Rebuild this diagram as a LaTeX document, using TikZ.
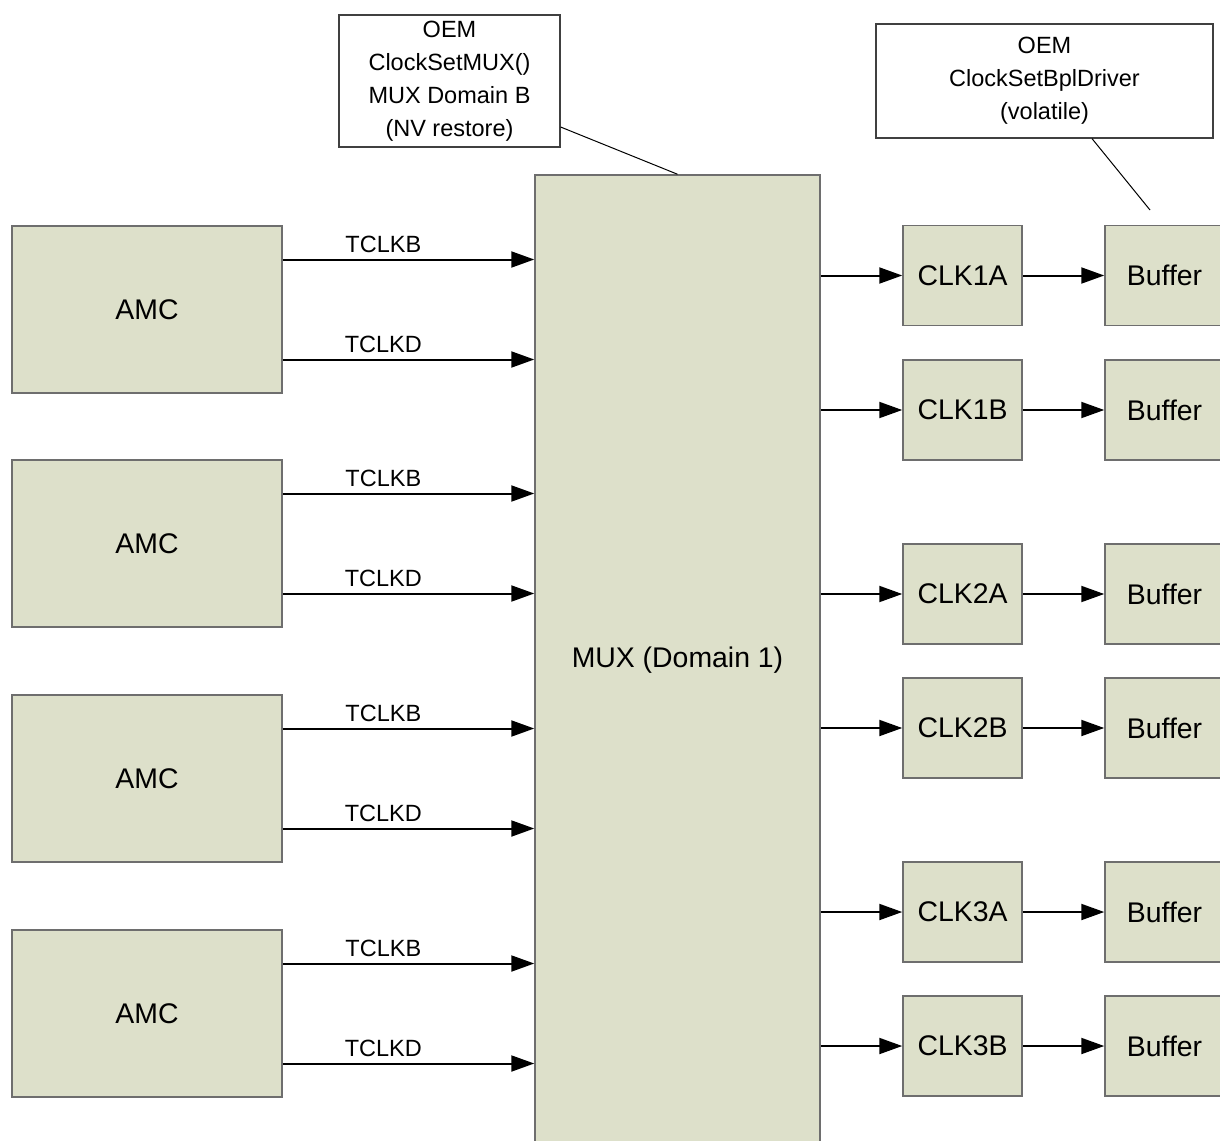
\documentclass[tikz,border=0pt]{standalone}
\usepackage{fontspec}
\setmainfont{Liberation Sans}
\usepackage{xcolor}
\usepackage{tikz}
\usetikzlibrary{arrows.meta, positioning}
\definecolor{boxfill}{HTML}{DDE0CA}
\definecolor{boxline}{HTML}{6E6E6E}

\begin{document}
\begin{tikzpicture}[x=1pt, y=-1pt,
    blk/.style={draw=boxline, fill=boxfill, line width=1.5pt, inner sep=0pt,
                minimum width=#1, font=\fontsize{28.4}{33}\selectfont},
    amcbox/.style={blk=270pt, minimum height=167pt},
    clkbox/.style={blk=119pt, minimum height=100pt},
    note/.style={draw=black!75, fill=white, line width=1.2pt, align=center,
                 inner sep=0pt, font=\fontsize{23.5}{33}\selectfont},
    sig/.style={line width=2pt, -{Triangle[length=23pt, width=16pt]}},
    tag/.style={font=\fontsize{23.5}{28}\selectfont, inner sep=2pt},
    lead/.style={line width=1pt},
]
    \path[use as bounding box, clip] (0,0) rectangle (1220,1140);

    % MUX
    \node[blk=285pt, minimum height=970pt] (mux) at (677.5, 660) {MUX (Domain 1)};

    % AMC modules
    \node[amcbox] (amc1) at (147, 309.5) {AMC};
    \node[amcbox] (amc2) at (147, 543.5) {AMC};
    \node[amcbox] (amc3) at (147, 778.5) {AMC};
    \node[amcbox] (amc4) at (147, 1013.5) {AMC};

    % clock inputs
    \coordinate (b1) at ([yshift=50pt]amc1.east);
    \coordinate (d1) at ([yshift=-50pt]amc1.east);
    \coordinate (b2) at ([yshift=50pt]amc2.east);
    \coordinate (d2) at ([yshift=-50pt]amc2.east);
    \coordinate (b3) at ([yshift=50pt]amc3.east);
    \coordinate (d3) at ([yshift=-50pt]amc3.east);
    \coordinate (b4) at ([yshift=50pt]amc4.east);
    \coordinate (d4) at ([yshift=-50pt]amc4.east);
    \draw[sig] (b1) -- (b1 -| mux.west) node[tag, pos=0.4, above=4pt] {TCLKB};
    \draw[sig] (d1) -- (d1 -| mux.west) node[tag, pos=0.4, above=4pt] {TCLKD};
    \draw[sig] (b2) -- (b2 -| mux.west) node[tag, pos=0.4, above=4pt] {TCLKB};
    \draw[sig] (d2) -- (d2 -| mux.west) node[tag, pos=0.4, above=4pt] {TCLKD};
    \draw[sig] (b3) -- (b3 -| mux.west) node[tag, pos=0.4, above=4pt] {TCLKB};
    \draw[sig] (d3) -- (d3 -| mux.west) node[tag, pos=0.4, above=4pt] {TCLKD};
    \draw[sig] (b4) -- (b4 -| mux.west) node[tag, pos=0.4, above=4pt] {TCLKB};
    \draw[sig] (d4) -- (d4 -| mux.west) node[tag, pos=0.4, above=4pt] {TCLKD};

    % clock outputs
    \node[clkbox] (clk1a) at (962.5, 275.5) {CLK1A};
    \node[clkbox] (clk1b) at (962.5, 410) {CLK1B};
    \node[clkbox] (clk2a) at (962.5, 594) {CLK2A};
    \node[clkbox] (clk2b) at (962.5, 728) {CLK2B};
    \node[clkbox] (clk3a) at (962.5, 912) {CLK3A};
    \node[clkbox] (clk3b) at (962.5, 1046) {CLK3B};

    % buffers
    \node[clkbox] (buf1a) at (1164.5, 275.5) {Buffer};
    \node[clkbox] (buf1b) at (1164.5, 410) {Buffer};
    \node[clkbox] (buf2a) at (1164.5, 594) {Buffer};
    \node[clkbox] (buf2b) at (1164.5, 728) {Buffer};
    \node[clkbox] (buf3a) at (1164.5, 912) {Buffer};
    \node[clkbox] (buf3b) at (1164.5, 1046) {Buffer};

    \draw[sig] (clk1a.west -| mux.east) -- (clk1a.west);
    \draw[sig] (clk1b.west -| mux.east) -- (clk1b.west);
    \draw[sig] (clk2a.west -| mux.east) -- (clk2a.west);
    \draw[sig] (clk2b.west -| mux.east) -- (clk2b.west);
    \draw[sig] (clk3a.west -| mux.east) -- (clk3a.west);
    \draw[sig] (clk3b.west -| mux.east) -- (clk3b.west);
    \draw[sig] (clk1a) -- (buf1a);
    \draw[sig] (clk1b) -- (buf1b);
    \draw[sig] (clk2a) -- (buf2a);
    \draw[sig] (clk2b) -- (buf2b);
    \draw[sig] (clk3a) -- (buf3a);
    \draw[sig] (clk3b) -- (buf3b);

    % OEM notes
    \node[note, minimum width=221pt, minimum height=132pt] (oemmux) at (449.5, 81)
        {OEM\\ClockSetMUX()\\MUX Domain B\\(NV restore)};
    \node[note, minimum width=337pt, minimum height=114pt] (oemdrv) at (1044.5, 81)
        {OEM\\ClockSetBplDriver\\(volatile)};
    \coordinate (drvtip) at (1150, 210);
    \draw[lead] ([yshift=-46pt]oemmux.east) -- (mux.north);
    \draw[lead] ([xshift=47.5pt]oemdrv.south) -- (drvtip);
\end{tikzpicture}
\end{document}
